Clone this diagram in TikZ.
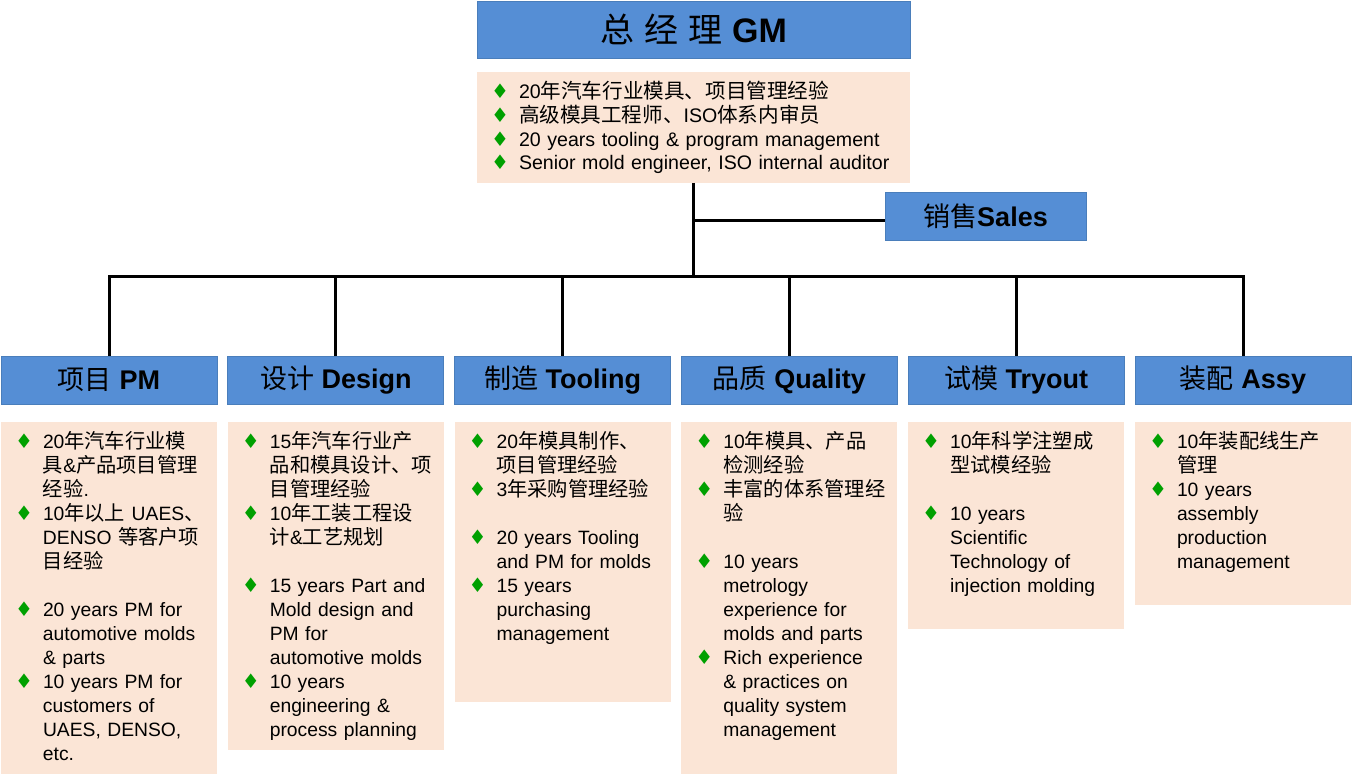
\documentclass[tikz,border=0pt]{standalone}
\usepackage{fontspec}
\setmainfont{Liberation Sans}
\newfontfamily\cjkbody[Scale=1.05]{Noto Sans CJK SC}
\newfontfamily\cjkhead{Noto Sans CJK SC}
\newfontfamily\symfont{DejaVu Sans}
\usepackage{xcolor}
\usepackage{tikz}
\usetikzlibrary{positioning}

\definecolor{headblue}{HTML}{558ED5}
\definecolor{headline}{HTML}{4A7EBB}
\definecolor{peach}{HTML}{FBE5D6}
\definecolor{bulgreen}{HTML}{00A000}

\newcommand{\cn}[1]{{\cjkbody #1}}
\newcommand{\hz}[1]{{\cjkhead\mdseries #1}}
% first bullet of a box (already in a paragraph), then the others
\newcommand{\bla}{\leavevmode\hangindent=36pt\hangafter=1\makebox[36pt][l]{\hspace{8pt}\textcolor{bulgreen}{\symfont\fontsize{20}{24}\selectfont ♦}}}
\newcommand{\bl}{\par\noindent\bla}
\newcommand{\gap}{\par\vspace{24pt}}

\begin{document}
\begin{tikzpicture}[
    x=1pt, y=-1pt,
    head/.style={rectangle, draw=headline, line width=0.8pt, fill=headblue, minimum width=216pt, minimum height=48pt, inner sep=0pt, font=\fontsize{27}{30}\selectfont\bfseries},
    gmbox/.style={head, minimum width=433pt, minimum height=57pt, font=\fontsize{34}{38}\selectfont\bfseries},
    salesbox/.style={head, minimum width=201pt},
    info/.style={rectangle, fill=peach, align=left, inner xsep=6pt, inner ysep=10pt, text height=17pt, text depth=#1},
    deptinfo/.style={info=#1, text width=204pt, font=\fontsize{19.3}{24}\selectfont},
    conn/.style={line width=3pt}
]
\useasboundingbox (0,0) rectangle (1352,774);

% General manager
\node (gm) [gmbox] at (693.5,29.5) {\hz{总\hspace{10pt}经\hspace{10pt}理}\hspace{10pt}GM};
\node (gminfo) [info=74pt, text width=421pt, font=\fontsize{19.6}{23.7}\selectfont, below=13pt of gm] {%
\bla 20\cn{年汽车行业模具、项目管理经验}
\bl \cn{高级模具工程师、}ISO\cn{体系内审员}
\bl 20 years tooling \& program management
\bl Senior mold engineer, ISO internal auditor\par};

% Sales
\node (sales) [salesbox] at (985.5,216) {\hz{销售}Sales};

% Departments
\node (pm) [head] at (109,380) {\hz{项目} PM};
\node (design) [head, right=10pt of pm] {\hz{设计} Design};
\node (tooling) [head, right=10pt of design] {\hz{制造} Tooling};
\node (quality) [head, right=10pt of tooling] {\hz{品质} Quality};
\node (tryout) [head, right=10pt of quality] {\hz{试模} Tryout};
\node (assy) [head, right=10pt of tryout] {\hz{装配} Assy};

% Department details
\node (pminfo) [deptinfo=315pt, below=17pt of pm] {%
\bla 20\cn{年汽车行业模}\newline \cn{具}\&\cn{产品项目管理}\newline \cn{经验}.
\bl 10\cn{年以上} UAES\cn{、}\newline DENSO \cn{等客户项}\newline \cn{目经验}
\gap
\bl 20 years PM for\newline automotive molds\newline \& parts
\bl 10 years PM for\newline customers of\newline UAES, DENSO,\newline etc.\par};

\node (designinfo) [deptinfo=291pt, below=17pt of design] {%
\bla 15\cn{年汽车行业产}\newline \cn{品和模具设计、项}\newline \cn{目管理经验}
\bl 10\cn{年工装工程设}\newline \cn{计}\&\cn{工艺规划}
\gap
\bl 15 years Part and\newline Mold design and\newline PM for\newline automotive molds
\bl 10 years\newline engineering \&\newline process planning\par};

\node (toolinginfo) [deptinfo=243pt, below=17pt of tooling] {%
\bla 20\cn{年模具制作、}\newline \cn{项目管理经验}
\bl 3\cn{年采购管理经验}
\gap
\bl 20 years Tooling\newline and PM for molds
\bl 15 years\newline purchasing\newline management\par};

\node (qualityinfo) [deptinfo=315pt, below=17pt of quality] {%
\bla 10\cn{年模具、产品}\newline \cn{检测经验}
\bl \cn{丰富的体系管理经}\newline \cn{验}
\gap
\bl 10 years\newline metrology\newline experience for\newline molds and parts
\bl Rich experience\newline \& practices on\newline quality system\newline management\par};

\node (tryoutinfo) [deptinfo=170pt, below=17pt of tryout] {%
\bla 10\cn{年科学注塑成}\newline \cn{型试模经验}
\gap
\bl 10 years\newline Scientific\newline Technology of\newline injection molding\par};

\node (assyinfo) [deptinfo=146pt, below=17pt of assy] {%
\bla 10\cn{年装配线生产}\newline \cn{管理}
\bl 10 years\newline assembly\newline production\newline management\par};

% Connectors
\coordinate (branch) at (0,220);
\coordinate (bar) at (0,276);
\draw [conn] (gminfo.south) -- (gminfo.south |- bar);
\draw [conn] (gminfo.south |- branch) -- (sales.west |- branch);
\draw [conn] (pm.north) |- (assy.north |- bar) -- (assy.north);
\foreach \dept in {design,tooling,quality,tryout}
    \draw [conn] (\dept.north) -- (\dept.north |- bar);

\end{tikzpicture}
\end{document}
